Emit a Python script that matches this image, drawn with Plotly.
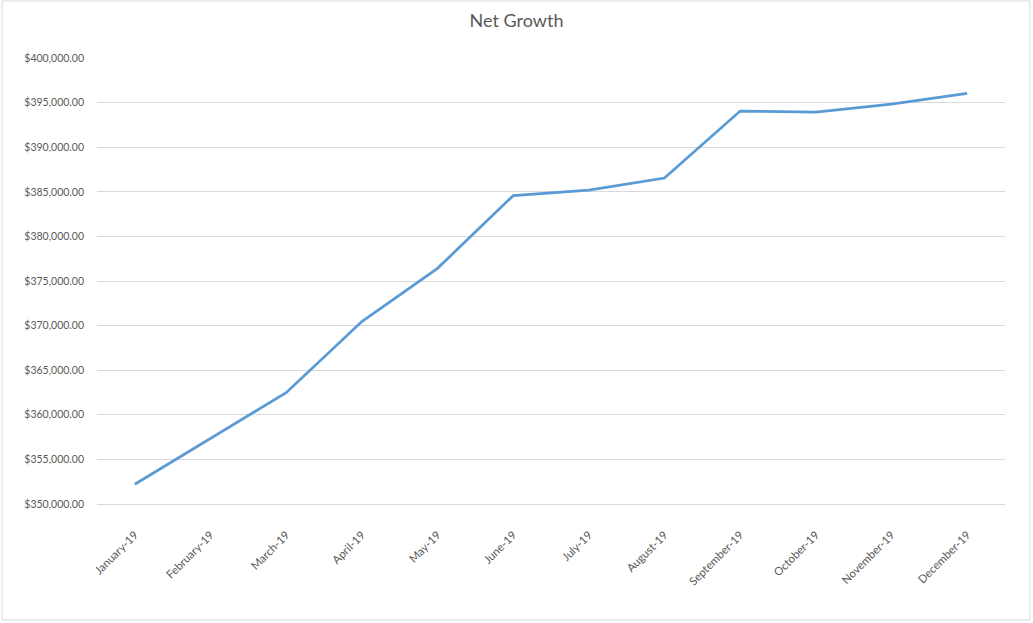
import plotly.graph_objects as go

months = ["January-19", "February-19", "March-19", "April-19", "May-19", "June-19",
          "July-19", "August-19", "September-19", "October-19", "November-19", "December-19"]
net_growth = [352210, 357350, 362480, 370450, 376420, 384570,
              385200, 386550, 394060, 393950, 394840, 396040]

title_text = "Net Growth"

fig = go.Figure()
fig.add_trace(go.Scatter(
    x=months, y=net_growth, mode="lines",
    line=dict(color="#5B9BD5", width=2.75),
    hoverinfo="x+y",
))

W, H = 1033, 623
L, R, T, B = 97, 28, 58, 119
pw, ph = W - L - R, H - T - B

fig.update_layout(
    width=W, height=H,
    margin=dict(l=L, r=R, t=T, b=B),
    paper_bgcolor="white", plot_bgcolor="white",
    font=dict(family="Lato, Open Sans, sans-serif", color="#595959", size=11),
    title=dict(text=title_text, x=0.5, xanchor="center", y=1 - 21 / H, yanchor="middle",
               font=dict(size=18, color="#595959")),
    showlegend=False,
    xaxis=dict(
        type="category", range=[-0.5, 11.5],
        showgrid=False, showline=True, linecolor="#D9D9D9", linewidth=1,
        tickangle=-45, ticks="", ticklabelstandoff=19,
        tickfont=dict(size=11.3, color="#595959"),
    ),
    yaxis=dict(
        range=[349995, 400005], dtick=5000, tick0=350000,
        tickformat="$,.2f", showgrid=True, gridcolor="#D9D9D9", gridwidth=1,
        zeroline=False, showline=False, ticks="", ticklabelstandoff=12,
        tickfont=dict(size=10.5, color="#595959"),
    ),
    shapes=[dict(
        type="rect", xref="paper", yref="paper",
        x0=(2 - L) / pw, x1=(1030 - L) / pw,
        y0=-(620 - (H - B)) / ph, y1=1 + (T - 1) / ph,
        line=dict(color="#D9D9D9", width=1), fillcolor="rgba(0,0,0,0)", layer="below",
    )],
)

fig.write_html("out.html", config={"displayModeBar": False},
               post_script="document.body.style.margin='0';")
